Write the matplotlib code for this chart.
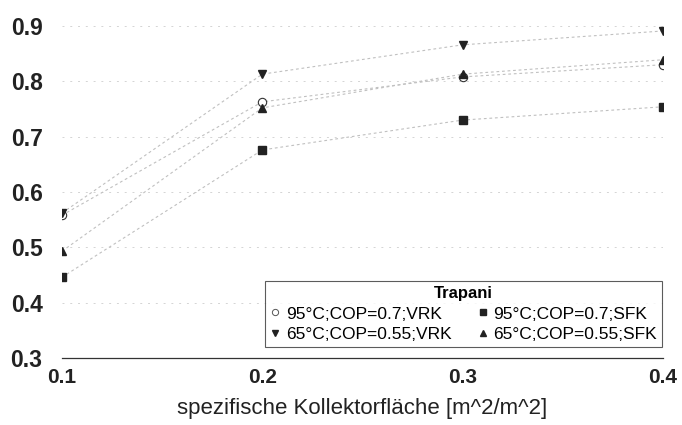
import matplotlib
matplotlib.use("Agg")
import matplotlib.pyplot as plt
from matplotlib.lines import Line2D

plt.rcParams['font.family'] = ['Liberation Sans', 'DejaVu Sans']

x = [0.1, 0.2, 0.3, 0.4]
vrk_95 = [0.558, 0.763, 0.808, 0.830]
sfk_95 = [0.446, 0.676, 0.730, 0.754]
vrk_65 = [0.562, 0.813, 0.866, 0.891]
sfk_65 = [0.493, 0.752, 0.813, 0.839]

labels = ["95°C;COP=0.7;VRK", "95°C;COP=0.7;SFK",
          "65°C;COP=0.55;VRK", "65°C;COP=0.55;SFK"]
legend_title = "Trapani"
xlabel = "spezifische Kollektorfläche [m^2/m^2]"
xticks = [0.1, 0.2, 0.3, 0.4]
yticks = [0.3, 0.4, 0.5, 0.6, 0.7, 0.8, 0.9]

fig = plt.figure(figsize=(6.82, 4.25), dpi=100)
ax = fig.add_axes([62/682, 1-358/425, 601/682, 332/425])

dark = '#222222'
lc = '#c0c0c0'
ls = (0, (2.5, 2.5))
ax.plot(x, vrk_95, linestyle=ls, color=lc, lw=0.8, marker='o', ms=6,
        mfc='white', mec='#333333', mew=0.8, zorder=3)
ax.plot(x, sfk_95, linestyle=ls, color=lc, lw=0.8, marker='s', ms=5.5,
        mfc=dark, mec=dark, zorder=3)
ax.plot(x, vrk_65, linestyle=ls, color=lc, lw=0.8, marker='v', ms=6,
        mfc=dark, mec=dark, zorder=4)
ax.plot(x, sfk_65, linestyle=ls, color=lc, lw=0.8, marker='^', ms=6,
        mfc=dark, mec=dark, zorder=4)

ax.set_xlim(0.1, 0.4)
ax.set_ylim(0.3, 0.9)
ax.set_xticks(xticks)
ax.set_xticklabels([f"{v:.1f}" for v in xticks], fontsize=15, fontweight='bold', color='#222222')
ax.set_yticks(yticks)
ax.set_yticklabels([f"{v:.1f}" for v in yticks], fontsize=16.5, fontweight='bold', color='#222222')
ax.tick_params(axis='both', length=0)
ax.tick_params(axis='y', pad=14)
ax.tick_params(axis='x', pad=7)
for s in ['top', 'right', 'left']:
    ax.spines[s].set_visible(False)
ax.spines['bottom'].set_color('#333333')
ax.spines['bottom'].set_linewidth(0.9)
ax.yaxis.grid(True, linestyle=(0, (2, 6)), color='#d4d4d4', lw=0.7)
ax.set_axisbelow(True)
ax.set_xlabel(xlabel, fontsize=16, color='#222222', labelpad=8)

handles = [
    Line2D([], [], ls='none', marker='o', ms=4.5, mfc='white', mec='#555555', mew=0.7),
    Line2D([], [], ls='none', marker='v', ms=4.5, mfc=dark, mec=dark),
    Line2D([], [], ls='none', marker='s', ms=4, mfc=dark, mec=dark),
    Line2D([], [], ls='none', marker='^', ms=4.5, mfc=dark, mec=dark),
]
leg_labels = [labels[0], labels[2], labels[1], labels[3]]
leg = fig.legend(handles, leg_labels, ncol=2, loc='upper left',
                 bbox_to_anchor=(265/682, 1-281/425), borderaxespad=0,
                 fontsize=12.5, title=legend_title,
                 title_fontproperties={'weight': 'bold', 'size': 12},
                 frameon=True, fancybox=False, handlelength=0.6, handletextpad=0.3,
                 columnspacing=1.5, borderpad=0.3, labelspacing=0.3)
leg.get_frame().set_edgecolor('#333333')
leg.get_frame().set_linewidth(0.8)

fig.savefig("out.png", dpi=100)
